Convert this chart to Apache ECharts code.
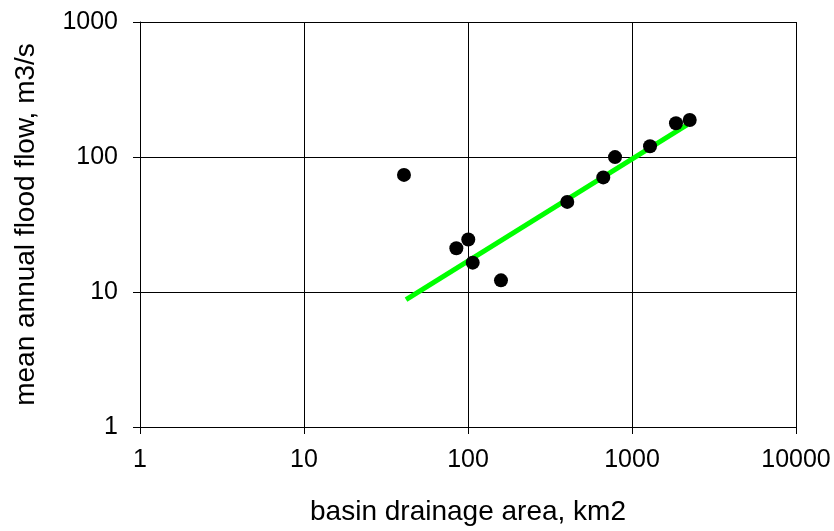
<!DOCTYPE html>
<html>
<head>
<meta charset="utf-8">
<script src="https://cdn.jsdelivr.net/npm/echarts@6/dist/echarts.min.js"></script>
<style>
  html, body { margin: 0; padding: 0; background: #fff; }
  #chartDom { width: 834px; height: 531px; }
</style>
</head>
<body>
<div id="chartDom"></div>
<script>
// basin drainage area (km2) and mean annual flood flow (m3/s)
const areaKm2 = [40.7, 84.9, 100.4, 106.8, 158.9, 403, 668, 788, 1288, 1854, 2249];
const floodFlow = [73.7, 21.1, 24.5, 16.5, 12.2, 46.5, 70.6, 99.8, 120, 178, 188];
// fitted trend line end points
const fitArea = [41.9, 2163];
const fitFlow = [8.78, 173];

const points = areaKm2.map((a, i) => [a, floodFlow[i]]);
const fitLine = fitArea.map((a, i) => [a, fitFlow[i]]);

const font = 'Liberation Sans, Arial, sans-serif';

const option = {
  animation: false,
  grid: { left: 140, right: 38, top: 22, bottom: 99 },
  xAxis: {
    type: 'log',
    logBase: 10,
    min: 1,
    max: 10000,
    name: 'basin drainage area, km2',
    nameLocation: 'middle',
    nameGap: 71,
    nameTextStyle: { color: '#000', fontSize: 28, fontFamily: font },
    axisLine: { lineStyle: { color: '#000', width: 1 } },
    axisTick: { show: true, inside: false, length: 7, lineStyle: { color: '#000' } },
    axisLabel: {
      color: '#000', fontSize: 25, fontFamily: font, margin: 21,
      formatter: v => String(v)
    },
    splitLine: { show: true, lineStyle: { color: '#000', width: 1 } },
    minorTick: { show: false }
  },
  yAxis: {
    type: 'log',
    logBase: 10,
    min: 1,
    max: 1000,
    name: 'mean annual flood flow, m3/s',
    nameLocation: 'middle',
    nameGap: 100,
    nameTextStyle: { color: '#000', fontSize: 28, fontFamily: font },
    axisLine: { show: true, lineStyle: { color: '#000', width: 1 } },
    axisTick: { show: true, inside: false, length: 7, lineStyle: { color: '#000' } },
    axisLabel: {
      color: '#000', fontSize: 25, fontFamily: font, margin: 22,
      formatter: v => String(v)
    },
    splitLine: { show: true, lineStyle: { color: '#000', width: 1 } },
    minorTick: { show: false }
  },
  series: [
    {
      type: 'line',
      data: fitLine,
      symbol: 'none',
      lineStyle: { color: '#00ff00', width: 5 },
      z: 2
    },
    {
      type: 'scatter',
      data: points,
      symbol: 'circle',
      symbolSize: 14,
      itemStyle: { color: '#000', opacity: 1 },
      z: 3
    }
  ]
};

var myChart = echarts.init(document.getElementById('chartDom'));
myChart.setOption(option);
</script>
</body>
</html>
